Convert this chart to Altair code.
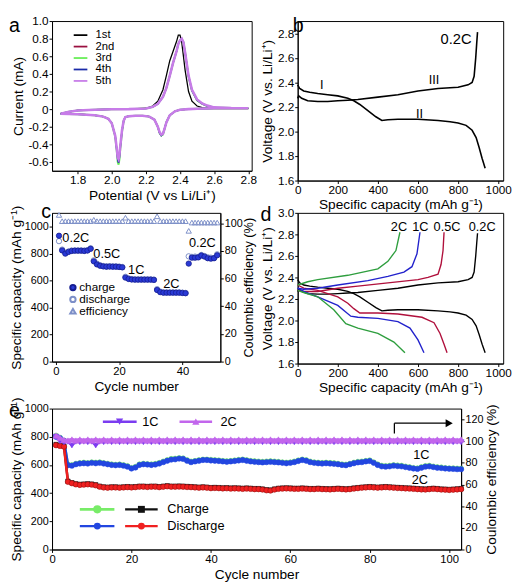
import altair as alt
import pandas as pd

FONT = "Liberation Sans"

# ---------------- (a) cyclic voltammetry ----------------
cv_cycles = ["1st", "2nd", "3rd", "4th", "5th"]
cv_colors = ["#000000", "#9a1040", "#66ee55", "#1a2aa8", "#c77ce8"]
cv_widths = [1.3, 1.3, 2.0, 1.5, 2.6]

cath_v = [2.80, 2.70, 2.60, 2.55, 2.50, 2.45, 2.40, 2.37, 2.34, 2.32,
          2.31, 2.30, 2.29, 2.28, 2.27, 2.25, 2.22, 2.18, 2.14, 2.10,
          2.08, 2.07, 2.06, 2.05, 2.045, 2.04, 2.035, 2.03, 2.02, 2.00,
          1.98, 1.95, 1.90, 1.85, 1.80, 1.75, 1.70]
cath_i_1 = [0.006, 0.006, 0.006, 0.005, 0.003, 0.0, -0.008, -0.025, -0.07, -0.15,
            -0.22, -0.28, -0.30, -0.27, -0.20, -0.12, -0.085, -0.075, -0.075, -0.08,
            -0.09, -0.13, -0.25, -0.43, -0.54, -0.60, -0.57, -0.47, -0.30, -0.16,
            -0.11, -0.085, -0.07, -0.063, -0.058, -0.055, -0.052]
cath_i_2 = [0.010, 0.010, 0.010, 0.008, 0.005, 0.0, -0.008, -0.025, -0.07, -0.15,
            -0.22, -0.28, -0.29, -0.26, -0.20, -0.12, -0.085, -0.075, -0.075, -0.08,
            -0.09, -0.13, -0.24, -0.42, -0.53, -0.58, -0.56, -0.46, -0.30, -0.16,
            -0.11, -0.085, -0.07, -0.063, -0.058, -0.055, -0.052]
cath_i_3 = [0.010, 0.010, 0.010, 0.008, 0.005, 0.0, -0.008, -0.025, -0.07, -0.15,
            -0.22, -0.29, -0.30, -0.27, -0.20, -0.12, -0.085, -0.075, -0.075, -0.08,
            -0.09, -0.13, -0.26, -0.45, -0.57, -0.63, -0.60, -0.49, -0.31, -0.16,
            -0.11, -0.085, -0.07, -0.063, -0.058, -0.055, -0.052]
cath_i_4 = [0.010, 0.010, 0.010, 0.008, 0.005, 0.0, -0.008, -0.025, -0.07, -0.15,
            -0.22, -0.28, -0.30, -0.27, -0.20, -0.12, -0.085, -0.075, -0.075, -0.08,
            -0.09, -0.13, -0.25, -0.44, -0.55, -0.61, -0.58, -0.48, -0.30, -0.16,
            -0.11, -0.085, -0.07, -0.063, -0.058, -0.055, -0.052]
cath_i_5 = [0.010, 0.010, 0.010, 0.008, 0.005, 0.0, -0.008, -0.025, -0.07, -0.15,
            -0.22, -0.28, -0.29, -0.26, -0.20, -0.12, -0.085, -0.075, -0.075, -0.08,
            -0.09, -0.13, -0.24, -0.42, -0.52, -0.57, -0.55, -0.46, -0.30, -0.16,
            -0.11, -0.085, -0.07, -0.063, -0.058, -0.055, -0.052]

anod_v = [1.70, 1.75, 1.80, 1.90, 2.00, 2.10, 2.20, 2.24, 2.27, 2.30,
          2.32, 2.34, 2.36, 2.38, 2.39, 2.40, 2.41, 2.42, 2.43, 2.45,
          2.47, 2.50, 2.53, 2.56, 2.60, 2.70, 2.80]
anod_i_1 = [-0.052, -0.03, -0.015, -0.006, -0.002, 0.0, 0.01, 0.035, 0.09, 0.22,
            0.38, 0.55, 0.66, 0.77, 0.84, 0.84, 0.76, 0.60, 0.44, 0.20,
            0.09, 0.035, 0.018, 0.010, 0.008, 0.006, 0.006]
anod_i_2 = [-0.052, -0.03, -0.015, -0.006, -0.002, 0.0, 0.008, 0.025, 0.06, 0.14,
            0.24, 0.38, 0.53, 0.66, 0.74, 0.78, 0.80, 0.76, 0.64, 0.38,
            0.22, 0.11, 0.065, 0.040, 0.020, 0.012, 0.010]
anod_i_3 = [-0.052, -0.03, -0.015, -0.006, -0.002, 0.0, 0.008, 0.025, 0.06, 0.14,
            0.24, 0.38, 0.53, 0.66, 0.74, 0.78, 0.80, 0.76, 0.64, 0.37,
            0.21, 0.10, 0.060, 0.035, 0.018, 0.012, 0.010]
anod_i_4 = [-0.052, -0.03, -0.015, -0.006, -0.002, 0.0, 0.008, 0.025, 0.06, 0.14,
            0.24, 0.38, 0.53, 0.66, 0.74, 0.78, 0.80, 0.76, 0.64, 0.37,
            0.21, 0.10, 0.060, 0.035, 0.018, 0.012, 0.010]
anod_i_5 = [-0.052, -0.03, -0.015, -0.006, -0.002, 0.0, 0.008, 0.025, 0.06, 0.14,
            0.24, 0.38, 0.53, 0.66, 0.74, 0.78, 0.80, 0.76, 0.64, 0.38,
            0.22, 0.11, 0.065, 0.040, 0.020, 0.012, 0.010]
cath_all = [cath_i_1, cath_i_2, cath_i_3, cath_i_4, cath_i_5]
anod_all = [anod_i_1, anod_i_2, anod_i_3, anod_i_4, anod_i_5]

# legend of (a): line start / end potential, label potential, current of rows
a_leg_v = [1.777, 1.857, 1.905]
a_leg_i = [0.84, 0.71, 0.58, 0.45, 0.32]

# ---------------- (b)/(d) charge-discharge profiles ----------------
rates = ["0.2C", "0.5C", "1C", "2C"]
rate_colors = ["#000000", "#b0103c", "#2222cc", "#2e9e3e"]

dis_cap_02 = [0, 10, 30, 60, 100, 150, 200, 250, 280, 310, 350, 390, 420, 450, 500,
              600, 700, 760, 800, 840, 870, 890, 905, 920, 935]
dis_v_02 = [2.38, 2.35, 2.33, 2.32, 2.31, 2.30, 2.29, 2.27, 2.25, 2.22, 2.17, 2.12, 2.09,
            2.095, 2.10, 2.10, 2.09, 2.08, 2.07, 2.05, 2.01, 1.95, 1.87, 1.78, 1.70]
chg_cap_02 = [0, 5, 20, 50, 100, 150, 200, 250, 300, 400, 500, 600, 700, 800, 850, 870,
              880, 888, 893, 897]
chg_v_02 = [2.27, 2.29, 2.27, 2.25, 2.245, 2.245, 2.25, 2.255, 2.26, 2.28, 2.30, 2.33,
            2.35, 2.36, 2.38, 2.40, 2.45, 2.60, 2.72, 2.81]

dis_cap_05 = [0, 30, 100, 200, 250, 280, 310, 400, 500, 620, 680, 710, 730, 745]
dis_v_05 = [2.33, 2.30, 2.28, 2.22, 2.16, 2.11, 2.07, 2.07, 2.06, 2.03, 1.98, 1.88, 1.78, 1.70]
chg_cap_05 = [0, 30, 100, 200, 300, 450, 600, 650, 700, 715, 725, 730]
chg_v_05 = [2.28, 2.27, 2.27, 2.30, 2.32, 2.35, 2.38, 2.40, 2.43, 2.52, 2.65, 2.82]

dis_cap_1 = [0, 30, 100, 200, 265, 300, 400, 500, 560, 600, 630]
dis_v_1 = [2.30, 2.27, 2.22, 2.14, 2.04, 2.03, 2.02, 1.99, 1.93, 1.82, 1.70]
chg_cap_1 = [0, 30, 100, 200, 350, 450, 530, 570, 595, 610]
chg_v_1 = [2.30, 2.29, 2.30, 2.33, 2.37, 2.41, 2.45, 2.50, 2.62, 2.82]

dis_cap_2 = [0, 30, 100, 180, 240, 300, 400, 480, 535]
dis_v_2 = [2.28, 2.26, 2.22, 2.10, 1.97, 1.93, 1.88, 1.80, 1.70]
chg_cap_2 = [0, 50, 100, 250, 400, 450, 490, 510]
chg_v_2 = [2.33, 2.36, 2.38, 2.42, 2.48, 2.55, 2.65, 2.82]

b_label_text = ["I", "II", "III", "0.2C"]
b_label_cap = [120, 608, 680, 790]
b_label_v = [2.38, 2.14, 2.42, 2.75]

d_label_text = ["2C", "1C", "0.5C", "0.2C"]
d_label_cap = [505, 612, 745, 920]
d_label_v = [2.87, 2.87, 2.87, 2.87]

# ---------------- (c) rate capability ----------------
c_cycle = list(range(1, 52))
c_charge = [935, 826, 802, 815, 822, 824, 824, 824, 822, 825, 838,
            745, 722, 712, 707, 705, 706, 705, 705, 703, 700,
            624, 614, 610, 609, 609, 609, 609, 609, 609, 607,
            532, 516, 512, 512, 512, 512, 512, 512, 510, 508,
            728, 772, 772, 774, 788, 780, 768, 765, 768, 790]
c_discharge = [895, 832, 808, 818, 825, 826, 826, 826, 825, 828, 842,
               752, 728, 716, 710, 708, 709, 708, 708, 706, 703,
               630, 618, 613, 611, 611, 611, 611, 611, 611, 609,
               538, 520, 514, 514, 514, 514, 514, 514, 512, 510,
               782, 778, 780, 778, 792, 784, 775, 772, 770, 797]
c_eff = [106, 101.5, 101.5, 101.5, 101.5, 101.5, 101.5, 101.5, 101.5, 101.5, 101.5,
         102.5, 101.5, 101.5, 101.5, 101.5, 101.5, 101.5, 101.5, 101.5, 101.5,
         104, 101.5, 101.5, 101.5, 101.5, 101.5, 101.5, 101.5, 101.5, 101.5,
         105, 101.5, 101.5, 101.5, 101.5, 101.5, 101.5, 101.5, 101.5, 101.5,
         94.5, 100.5, 100.5, 100.5, 100.5, 100.5, 100.5, 100.5, 100.5, 100.5]
c_label_text = ["0.2C", "0.5C", "1C", "2C", "0.2C"]
c_label_x = [6.3, 16.1, 25.4, 36.5, 46.3]
c_label_y = [915, 796, 683, 579, 879]
c_leg_text = ["charge", "discharge", "efficiency"]
c_leg_x = [5.4, 7.4]
c_leg_y = [550, 462, 374]

# ---------------- (e) long cycling ----------------
e_cycle = list(range(1, 104))
e_dis_1c = [800, 790, 770, 598, 595, 605, 610, 612, 610, 615,
            612, 615, 610, 605, 600, 598, 600, 595, 588, 575,
            582, 600, 605, 603, 600, 603, 610, 620, 630, 638,
            640, 645, 643, 630, 620, 625, 630, 635, 635, 632,
            630, 628, 625, 622, 625, 628, 632, 635, 630, 625,
            622, 620, 618, 620, 622, 620, 618, 615, 612, 615,
            620, 628, 635, 630, 620, 615, 612, 610, 612, 610,
            608, 605, 600, 598, 605, 612, 618, 620, 625, 628,
            615, 600, 590, 588, 590, 595, 592, 590, 585, 580,
            575, 572, 580, 588, 590, 585, 580, 578, 575, 573,
            572, 570, 570]
e_chg_1c = [810, 795, 775, 605, 600, 610, 615, 618, 615, 620,
            618, 620, 615, 610, 606, 603, 605, 600, 594, 580,
            588, 606, 610, 608, 606, 609, 616, 626, 636, 644,
            646, 650, 648, 636, 626, 630, 636, 640, 640, 638,
            636, 634, 630, 628, 630, 634, 638, 640, 636, 630,
            628, 626, 624, 626, 628, 626, 624, 620, 618, 620,
            626, 634, 640, 636, 626, 620, 618, 616, 618, 616,
            614, 610, 606, 604, 610, 618, 624, 626, 630, 634,
            620, 606, 596, 594, 596, 600, 598, 596, 590, 586,
            580, 578, 586, 594, 596, 590, 586, 584, 580, 578,
            578, 576, 576]
e_dis_2c = [740, 735, 730, 480, 470, 462, 458, 460, 462, 460,
            455, 445, 440, 438, 440, 440, 438, 440, 442, 440,
            442, 445, 445, 443, 445, 445, 442, 445, 448, 445,
            445, 446, 445, 443, 442, 440, 438, 440, 438, 435,
            436, 435, 433, 434, 432, 433, 432, 430, 432, 430,
            428, 428, 425, 420, 418, 425, 430, 432, 433, 432,
            430, 430, 432, 430, 428, 428, 430, 428, 427, 426,
            428, 430, 428, 426, 428, 432, 435, 438, 440, 442,
            440, 438, 440, 442, 440, 438, 436, 435, 433, 432,
            430, 428, 426, 425, 428, 430, 428, 425, 424, 422,
            424, 426, 428]
e_chg_2c = [745, 738, 733, 485, 474, 466, 462, 464, 466, 464,
            459, 449, 444, 442, 444, 444, 442, 444, 446, 444,
            446, 449, 449, 447, 449, 449, 446, 449, 452, 449,
            449, 450, 449, 447, 446, 444, 442, 444, 442, 439,
            440, 439, 437, 438, 436, 437, 436, 434, 436, 434,
            432, 432, 429, 424, 422, 429, 434, 436, 437, 436,
            434, 434, 436, 434, 432, 432, 434, 432, 431, 430,
            432, 434, 432, 430, 432, 436, 439, 442, 444, 446,
            444, 442, 444, 446, 444, 442, 440, 439, 437, 436,
            434, 432, 430, 429, 432, 434, 432, 429, 428, 426,
            428, 430, 432]
e_eff_1c = [104, 100, 99, 99.5, 96, 99.5, 99, 99.5, 99, 99.5,
            96, 99.5, 99, 99.5, 99, 99.5, 99, 99.5, 99, 99.5,
            99, 99.5, 99, 99.5, 99, 99.5, 99, 99.5, 99, 99.5,
            99, 99.5, 99, 99.5, 99, 99.5, 99, 99.5, 99, 99.5,
            99, 99.5, 99, 99.5, 99, 99.5, 99, 99.5, 99, 99.5,
            99, 99.5, 99, 99.5, 99, 99.5, 99, 99.5, 99, 99.5,
            99, 99.5, 99, 99.5, 99, 99.5, 99, 99.5, 99, 99.5,
            99, 99.5, 99, 99.5, 99, 99.5, 99, 99.5, 99, 99.5,
            99, 99.5, 99, 99.5, 99, 99.5, 99, 99.5, 99, 99.5,
            99, 99.5, 99, 99.5, 99, 99.5, 99, 99.5, 99, 99.5,
            99, 99.5, 99]
e_eff_2c = [105, 103, 101, 100.5, 101.5, 100.5, 101.5, 100.5, 101.5, 100.5,
            101.5, 100.5, 101.5, 100.5, 101.5, 100.5, 101.5, 100.5, 101.5, 100.5,
            101.5, 100.5, 101.5, 100.5, 101.5, 100.5, 101.5, 100.5, 101.5, 100.5,
            101.5, 100.5, 101.5, 100.5, 101.5, 100.5, 101.5, 100.5, 101.5, 100.5,
            101.5, 100.5, 101.5, 100.5, 101.5, 100.5, 101.5, 100.5, 101.5, 100.5,
            101.5, 100.5, 101.5, 100.5, 101.5, 100.5, 101.5, 100.5, 101.5, 100.5,
            101.5, 100.5, 101.5, 100.5, 101.5, 100.5, 101.5, 100.5, 101.5, 100.5,
            101.5, 100.5, 101.5, 100.5, 101.5, 100.5, 101.5, 100.5, 101.5, 100.5,
            101.5, 100.5, 101.5, 100.5, 101.5, 100.5, 101.5, 100.5, 101.5, 100.5,
            101.5, 100.5, 101.5, 100.5, 101.5, 100.5, 101.5, 100.5, 101.5, 100.5,
            101.5, 100.5, 101.5]
e_label_text = ["1C", "2C"]
e_label_x = [93, 92.6]
e_label_y = [673, 490]
# arrow pointing to right axis (cycle, efficiency %)
e_arrow_x = [86.2, 101.5]
e_arrow_y = [107, 116.5]
# legends of (e)
e_top_leg_text = ["1C", "2C"]
e_top_leg_x1 = [12.8, 32.1]
e_top_leg_x2 = [21.3, 40.3]
e_top_leg_xm = [17.0, 36.2]
e_top_leg_xt = [22.7, 42.4]
e_top_leg_y = 907
e_bot_leg_text = ["Charge", "Discharge"]
e_bot_leg_y = [285, 166]
e_bot_leg_x1 = [7.0, 18.4]
e_bot_leg_x2 = [15.7, 26.6]
e_bot_leg_xm = [11.4, 22.5]
e_bot_leg_xt = 29.0

# ======================= helpers =======================
def txt_layer(df, size=13, xs=None, ys=None, yaxis=None, align="center"):
    return alt.Chart(df).mark_text(fontSize=size, font=FONT, align=align,
                                   baseline="middle", color="black").encode(
        x=alt.X("x:Q", scale=xs), y=alt.Y("y:Q", scale=ys, axis=yaxis), text="t:N")


def letter(ch, px, py):
    return alt.Chart(pd.DataFrame({"t": [ch]})).mark_text(
        fontSize=20, font=FONT, align="left", baseline="top", color="black").encode(
        x=alt.value(px), y=alt.value(py), text="t:N")


def zero_fmt():
    return "datum.value == 0 ? '0' : replace(format(datum.value, '.1f'), '\u2212', '-')"


# ======================= panel a =======================
rows = []
for k, name in enumerate(cv_cycles):
    vs = cath_v + anod_v
    cs = cath_all[k] + anod_all[k]
    for j, (v, c) in enumerate(zip(vs, cs)):
        rows.append({"cycle": name, "V": v, "I": c, "idx": j})
df_a = pd.DataFrame(rows)

xa = alt.Scale(domain=[1.65, 2.82], nice=False, zero=False)
ya = alt.Scale(domain=[-0.7, 1.0], nice=False, zero=False)
xa_axis = alt.Axis(values=[1.8, 2.0, 2.2, 2.4, 2.6, 2.8], format=".1f", title="Potential (V vs Li/Li\u207a)")
ya_axis = alt.Axis(values=[-0.6, -0.4, -0.2, 0, 0.2, 0.4, 0.6, 0.8, 1.0], labelExpr=zero_fmt(),
                   title="Current (mA)")
xa_enc = alt.X("V:Q", scale=xa, axis=xa_axis)
ya_enc = alt.Y("I:Q", scale=ya, axis=ya_axis)
a_layers = []
for k, name in enumerate(cv_cycles):
    a_layers.append(alt.Chart(df_a[df_a.cycle == name]).mark_line(
        color=cv_colors[k], strokeWidth=cv_widths[k]).encode(x=xa_enc, y=ya_enc, order="idx:Q"))
leg_rows = []
for k, name in enumerate(cv_cycles):
    leg_rows.append({"x1": a_leg_v[0], "x2": a_leg_v[1], "xt": a_leg_v[2], "y": a_leg_i[k],
                     "t": name, "c": cv_colors[k]})
df_aleg = pd.DataFrame(leg_rows)
a_leg_lines = alt.Chart(df_aleg).mark_rule(strokeWidth=1.8).encode(
    x=alt.X("x1:Q", scale=xa, axis=xa_axis), x2="x2:Q", y=alt.Y("y:Q", scale=ya, axis=ya_axis),
    color=alt.Color("c:N", scale=None))
a_leg_text = alt.Chart(df_aleg).mark_text(fontSize=11.5, font=FONT, align="left", baseline="middle").encode(
    x=alt.X("xt:Q", scale=xa, axis=xa_axis), y=alt.Y("y:Q", scale=ya, axis=ya_axis), text="t:N")
panel_a = alt.layer(*a_layers, a_leg_lines, a_leg_text, letter("a", -44, -5)).properties(width=204, height=153)

# ======================= panel b / d =======================
def profile_df(which):
    sets = {
        "0.2C": (dis_cap_02, dis_v_02, chg_cap_02, chg_v_02),
        "0.5C": (dis_cap_05, dis_v_05, chg_cap_05, chg_v_05),
        "1C": (dis_cap_1, dis_v_1, chg_cap_1, chg_v_1),
        "2C": (dis_cap_2, dis_v_2, chg_cap_2, chg_v_2),
    }
    out = []
    for r in which:
        dc, dv, cc, cv = sets[r]
        for j, (c, v) in enumerate(zip(dc, dv)):
            out.append({"rate": r, "branch": "dis", "cap": c, "V": v, "idx": j})
        for j, (c, v) in enumerate(zip(cc, cv)):
            out.append({"rate": r, "branch": "chg", "cap": c, "V": v, "idx": j})
    return pd.DataFrame(out)


xcap = alt.Scale(domain=[0, 1025], nice=False)
cap_axis = alt.Axis(values=[0, 200, 400, 600, 800, 1000], format="d",
                    title="Specific capacity (mAh g\u207b\u00b9)")
yb = alt.Scale(domain=[1.6, 2.9], nice=False, zero=False)
yd = alt.Scale(domain=[1.6, 3.0], nice=False, zero=False)
volt_title = "Voltage (V vs. Li/Li\u207a)"
yb_axis = alt.Axis(values=[1.6, 1.8, 2.0, 2.2, 2.4, 2.6, 2.8], format=".1f", title=volt_title)
yd_axis = alt.Axis(values=[1.6, 1.8, 2.0, 2.2, 2.4, 2.6, 2.8, 3.0], format=".1f", title=volt_title)

df_b = profile_df(["0.2C"])
b_line = alt.Chart(df_b).mark_line(color="black", strokeWidth=1.6).encode(
    x=alt.X("cap:Q", scale=xcap, axis=cap_axis), y=alt.Y("V:Q", scale=yb, axis=yb_axis),
    detail="branch:N", order="idx:Q")
df_blab = pd.DataFrame({"x": b_label_cap, "y": b_label_v, "t": b_label_text})
b_text = alt.Chart(df_blab).mark_text(font=FONT, baseline="middle", align="center").encode(
    x=alt.X("x:Q", scale=xcap, axis=cap_axis), y=alt.Y("y:Q", scale=yb, axis=yb_axis), text="t:N",
    size=alt.condition("datum.t == '0.2C'", alt.value(15), alt.value(13)))
panel_b = alt.layer(b_line, b_text, letter("b", -5, -5)).properties(width=210, height=163)

df_d = profile_df(rates)
d_line = alt.Chart(df_d).mark_line(strokeWidth=1.4).encode(
    x=alt.X("cap:Q", scale=xcap, axis=cap_axis), y=alt.Y("V:Q", scale=yd, axis=yd_axis),
    color=alt.Color("rate:N", scale=alt.Scale(domain=rates, range=rate_colors), legend=None),
    detail="branch:N", order="idx:Q")
df_dlab = pd.DataFrame({"x": d_label_cap, "y": d_label_v, "t": d_label_text})
d_text = alt.Chart(df_dlab).mark_text(fontSize=13, font=FONT, baseline="middle", align="center").encode(
    x=alt.X("x:Q", scale=xcap, axis=cap_axis), y=alt.Y("y:Q", scale=yd, axis=yd_axis), text="t:N")
panel_d = alt.layer(d_line, d_text, letter("d", -38, -8)).properties(width=210, height=154)

# ======================= panel c =======================
xc = alt.Scale(domain=[-1.2, 52], nice=False, zero=False)
ycl = alt.Scale(domain=[0, 1105], nice=False)
ycr = alt.Scale(domain=[0, 107.5], nice=False)
df_c = pd.DataFrame({"cyc": c_cycle, "chg": c_charge, "dis": c_discharge, "eff": c_eff})
xc_enc = alt.X("cyc:Q", scale=xc, axis=alt.Axis(values=[0, 10, 20, 30, 40, 50], labelFontSize=11.5,
                                                title="Cycle number"))
c_dis = alt.Chart(df_c).mark_point(shape="circle", size=30, fill="white", stroke="#7d8fc8",
                                   strokeWidth=1, opacity=1, fillOpacity=1).encode(
    x=xc_enc,
    y=alt.Y("dis:Q", scale=ycl, axis=alt.Axis(values=[0, 200, 400, 600, 800, 1000], format="d",
                                              labelFontSize=11, titlePadding=1,
                                              title="Specific capacity (mAh g\u207b\u00b9)")))
c_chg = alt.Chart(df_c).mark_point(shape="circle", size=30, fill="#2a3ad6", stroke="#141c90",
                                   strokeWidth=0.8, opacity=1, fillOpacity=1).encode(
    x=xc_enc, y=alt.Y("chg:Q", scale=ycl, axis=None))
c_eff_l = alt.Chart(df_c).mark_point(shape="triangle-up", size=30, stroke="#7d8fc8", strokeWidth=1,
                                     opacity=1).encode(
    x=xc_enc,
    y=alt.Y("eff:Q", scale=ycr, axis=alt.Axis(orient="right", values=[0, 20, 40, 60, 80, 100],
                                              labelFontSize=11, titlePadding=1, titleAngle=270,
                                              titleBaseline="top", titleFontSize=13,
                                              title="Coulombic efficiency (%)")))
df_clab = pd.DataFrame({"x": c_label_x, "y": c_label_y, "t": c_label_text})
c_text = txt_layer(df_clab, size=13, xs=xc, ys=ycl)
df_cleg = pd.DataFrame({"x": [c_leg_x[0]] * 3, "xt": [c_leg_x[1]] * 3, "y": c_leg_y, "t": c_leg_text})
c_leg_m1 = alt.Chart(df_cleg.iloc[[0]]).mark_point(shape="circle", size=30, fill="#2a3ad6",
                                                   stroke="#141c90", opacity=1, fillOpacity=1).encode(
    x=alt.X("x:Q", scale=xc), y=alt.Y("y:Q", scale=ycl, axis=None))
c_leg_m2 = alt.Chart(df_cleg.iloc[[1]]).mark_point(shape="circle", size=30, fill="white",
                                                   stroke="#7d8fc8", opacity=1, fillOpacity=1).encode(
    x=alt.X("x:Q", scale=xc), y=alt.Y("y:Q", scale=ycl, axis=None))
c_leg_m3 = alt.Chart(df_cleg.iloc[[2]]).mark_point(shape="triangle-up", size=30, stroke="#7d8fc8",
                                                   opacity=1).encode(
    x=alt.X("x:Q", scale=xc), y=alt.Y("y:Q", scale=ycl, axis=None))
c_leg_t = alt.Chart(df_cleg).mark_text(fontSize=12, font=FONT, align="left", baseline="middle").encode(
    x=alt.X("xt:Q", scale=xc), y=alt.Y("y:Q", scale=ycl, axis=None), text="t:N")
panel_c = alt.layer(c_dis, c_chg, c_eff_l, c_text, c_leg_m1, c_leg_m2, c_leg_m3, c_leg_t,
                    letter("c", -11, -11)).resolve_scale(y="independent").properties(width=172, height=152)

# ======================= panel e =======================
xe = alt.Scale(domain=[0, 103], nice=False)
yel = alt.Scale(domain=[0, 1000], nice=False)
yer = alt.Scale(domain=[0, 130], nice=False)
df_e = pd.DataFrame({"cyc": e_cycle, "c1": e_chg_1c, "d1": e_dis_1c, "c2": e_chg_2c, "d2": e_dis_2c,
                     "f1": e_eff_1c, "f2": e_eff_2c})
xe_enc = alt.X("cyc:Q", scale=xe, axis=alt.Axis(values=[0, 20, 40, 60, 80, 100], labelFontSize=11.5,
                                                title="Cycle number"))


def e_series(field, color, shape, scale, size=22, sw=2.0, axis=None, stroke=None):
    ln = alt.Chart(df_e).mark_line(color=color, strokeWidth=sw).encode(
        x=xe_enc, y=alt.Y(field + ":Q", scale=scale, axis=axis))
    pt = alt.Chart(df_e).mark_point(shape=shape, size=size, filled=True, color=color, opacity=1,
                                    stroke=stroke or color, strokeWidth=0.6).encode(
        x=xe_enc, y=alt.Y(field + ":Q", scale=scale, axis=None))
    return [ln, pt]


left_axis = alt.Axis(values=[0, 200, 400, 600, 800, 1000], format="d", labelFontSize=11, titlePadding=1,
                     title="Specific capacity (mAh g\u207b\u00b9)")
right_axis = alt.Axis(orient="right", values=[0, 20, 40, 60, 80, 100, 120], labelFontSize=11,
                      titlePadding=2, titleAngle=270, titleBaseline="top", title="Coulombic efficiency (%)")
e_layers = []
e_layers += e_series("c1", "#78ec68", "circle", yel, size=24, sw=2.4, axis=left_axis)
e_layers += e_series("d1", "#2246e0", "circle", yel, size=30, sw=2.8)
e_layers += e_series("c2", "#111111", "square", yel, size=20, sw=2.4)
e_layers += e_series("d2", "#f02020", "circle", yel, size=30, sw=2.6, stroke="#a01010")
e_layers += e_series("f1", "#7b3cf0", "triangle-down", yer, size=36, sw=2.4, axis=right_axis)
e_layers += e_series("f2", "#c266ec", "triangle-up", yer, size=40, sw=3.2)

df_elab = pd.DataFrame({"x": e_label_x, "y": e_label_y, "t": e_label_text})
e_text = txt_layer(df_elab, size=13, xs=xe, ys=yel)
df_arrow = pd.DataFrame({"x1": [e_arrow_x[0], e_arrow_x[0]], "x2": [e_arrow_x[0], e_arrow_x[1] - 1.2],
                         "y1": [e_arrow_y[0], e_arrow_y[1]], "y2": [e_arrow_y[1], e_arrow_y[1]]})
e_arrow = alt.Chart(df_arrow).mark_rule(color="black", strokeWidth=1.3).encode(
    x=alt.X("x1:Q", scale=xe), x2="x2:Q", y=alt.Y("y1:Q", scale=yer, axis=None), y2="y2:Q")
e_head = alt.Chart(pd.DataFrame({"x": [e_arrow_x[1] - 1.5], "y": [e_arrow_y[1]]})).mark_point(
    shape="triangle-right", size=70, filled=True, color="black", opacity=1).encode(
    x=alt.X("x:Q", scale=xe), y=alt.Y("y:Q", scale=yer, axis=None))

# legend of (e)
top_rows = [{"x1": e_top_leg_x1[k], "x2": e_top_leg_x2[k], "xm": e_top_leg_xm[k], "xt": e_top_leg_xt[k],
             "y": e_top_leg_y, "t": e_top_leg_text[k]} for k in range(2)]
df_etop = pd.DataFrame(top_rows)
top_cols = ["#7b3cf0", "#c266ec"]
top_shapes = ["triangle-down", "triangle-up"]
e_leg = []
for k in range(2):
    d = df_etop.iloc[[k]]
    e_leg.append(alt.Chart(d).mark_rule(color=top_cols[k], strokeWidth=2.6).encode(
        x=alt.X("x1:Q", scale=xe), x2="x2:Q", y=alt.Y("y:Q", scale=yel, axis=None)))
    e_leg.append(alt.Chart(d).mark_point(shape=top_shapes[k], size=55, filled=True, color=top_cols[k],
                                         opacity=1).encode(
        x=alt.X("xm:Q", scale=xe), y=alt.Y("y:Q", scale=yel, axis=None)))
e_leg.append(alt.Chart(df_etop).mark_text(fontSize=13, font=FONT, align="left", baseline="middle").encode(
    x=alt.X("xt:Q", scale=xe), y=alt.Y("y:Q", scale=yel, axis=None), text="t:N"))
bot_cols = [["#78ec68", "#111111"], ["#2246e0", "#f02020"]]
bot_shapes = [["circle", "square"], ["circle", "circle"]]
bot_rows = []
for r in range(2):
    for k in range(2):
        bot_rows.append({"x1": e_bot_leg_x1[k], "x2": e_bot_leg_x2[k], "xm": e_bot_leg_xm[k],
                         "y": e_bot_leg_y[r], "r": r, "k": k})
df_ebot = pd.DataFrame(bot_rows)
for j, row in df_ebot.iterrows():
    r, k = int(row.r), int(row.k)
    d = df_ebot.iloc[[j]]
    col = bot_cols[r][k]
    e_leg.append(alt.Chart(d).mark_rule(color=col, strokeWidth=3 if (r, k) == (0, 0) else 2.2).encode(
        x=alt.X("x1:Q", scale=xe), x2="x2:Q", y=alt.Y("y:Q", scale=yel, axis=None)))
    e_leg.append(alt.Chart(d).mark_point(shape=bot_shapes[r][k], size=70 if (r, k) == (0, 0) else 50,
                                         filled=True, color=col, opacity=1).encode(
        x=alt.X("xm:Q", scale=xe), y=alt.Y("y:Q", scale=yel, axis=None)))
df_ebt = pd.DataFrame({"xt": [e_bot_leg_xt] * 2, "y": e_bot_leg_y, "t": e_bot_leg_text})
e_leg.append(alt.Chart(df_ebt).mark_text(fontSize=13, font=FONT, align="left", baseline="middle").encode(
    x=alt.X("xt:Q", scale=xe), y=alt.Y("y:Q", scale=yel, axis=None), text="t:N"))

panel_e = alt.layer(*e_layers, e_text, e_arrow, e_head, *e_leg, letter("e", -44, -7)).resolve_scale(
    y="independent").properties(width=418, height=144)

row1 = alt.hconcat(panel_a, panel_b, spacing=47, bounds="flush")
row2 = alt.hconcat(panel_c, panel_d, spacing=79, bounds="flush")
top = alt.vconcat(row1, row2, spacing=-21)
chart = alt.vconcat(top, panel_e, spacing=0).properties(padding=0).configure_axis(
    labelFont=FONT, titleFont=FONT, labelFontSize=12, titleFontSize=14, titleFontWeight="normal",
    domainColor="black", tickColor="black", labelColor="black", titleColor="black", grid=False,
    tickSize=3, labelPadding=1, titlePadding=3, labelOverlap=False, labelFlush=False
).configure_view(stroke="black", strokeWidth=1).configure_text(font=FONT)

chart.save("out.html", embed_options={"renderer": "svg", "actions": False})
